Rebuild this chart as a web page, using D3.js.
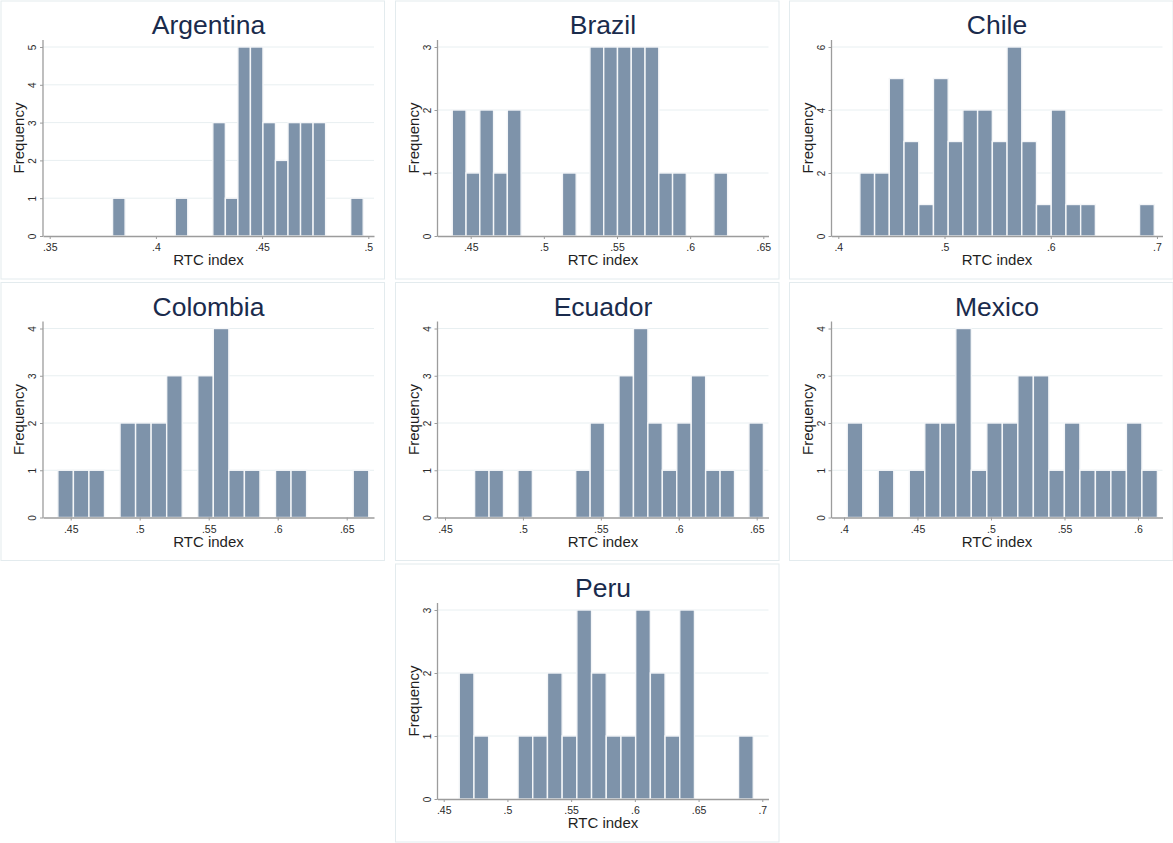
<!DOCTYPE html>
<html>
<head>
<meta charset="utf-8">
<script src="https://cdn.jsdelivr.net/npm/d3@7"></script>
<style>
  html, body { margin: 0; padding: 0; background: #ffffff; }
  svg { display: block; font-family: "Liberation Sans", Arial, sans-serif; }
</style>
</head>
<body>
<svg id="chart" width="1173" height="843"></svg>
<script>
// Histograms of the RTC index by country (20 equal-width bins each)
const countries = ["Argentina", "Brazil", "Chile", "Colombia", "Ecuador", "Mexico", "Peru"];

// Left edge of the first bin and the bin width, per country
const binStart = [0.3796, 0.4374, 0.4203, 0.4407, 0.4690, 0.4022, 0.4622];
const binWidth = [0.00590, 0.009411, 0.013857, 0.011264, 0.009265, 0.010551, 0.011535];

// Frequencies per bin
const argentinaCounts = [1, 0, 0, 0, 0, 1, 0, 0, 3, 1, 5, 5, 3, 2, 3, 3, 3, 0, 0, 1];
const brazilCounts    = [2, 1, 2, 1, 2, 0, 0, 0, 1, 0, 3, 3, 3, 3, 3, 1, 1, 0, 0, 1];
const chileCounts     = [2, 2, 5, 3, 1, 5, 3, 4, 4, 3, 6, 3, 1, 4, 1, 1, 0, 0, 0, 1];
const colombiaCounts  = [1, 1, 1, 0, 2, 2, 2, 3, 0, 3, 4, 1, 1, 0, 1, 1, 0, 0, 0, 1];
const ecuadorCounts   = [1, 1, 0, 1, 0, 0, 0, 1, 2, 0, 3, 4, 2, 1, 2, 3, 1, 1, 0, 2];
const mexicoCounts    = [2, 0, 1, 0, 1, 2, 2, 4, 1, 2, 2, 3, 3, 1, 2, 1, 1, 1, 2, 1];
const peruCounts      = [2, 1, 0, 0, 1, 1, 2, 1, 3, 2, 1, 1, 3, 2, 1, 3, 0, 0, 0, 1];
const counts = [argentinaCounts, brazilCounts, chileCounts, colombiaCounts, ecuadorCounts, mexicoCounts, peruCounts];

// Horizontal axis extent and tick values
const xExtent = [
  [0.34685, 0.50268],
  [0.42731, 0.65355],
  [0.3936, 0.7052],
  [0.42993, 0.66978],
  [0.44519, 0.65757],
  [0.3915, 0.61667],
  [0.44513, 0.70487]
];
const xTicks = [
  [0.35, 0.40, 0.45, 0.50],
  [0.45, 0.50, 0.55, 0.60, 0.65],
  [0.4, 0.5, 0.6, 0.7],
  [0.45, 0.50, 0.55, 0.60, 0.65],
  [0.45, 0.50, 0.55, 0.60, 0.65],
  [0.40, 0.45, 0.50, 0.55, 0.60],
  [0.45, 0.50, 0.55, 0.60, 0.65, 0.70]
];
// Vertical axis tick values (last one is the top of the scale)
const yTicks = [
  [0, 1, 2, 3, 4, 5],
  [0, 1, 2, 3],
  [0, 2, 4, 6],
  [0, 1, 2, 3, 4],
  [0, 1, 2, 3, 4],
  [0, 1, 2, 3, 4],
  [0, 1, 2, 3]
];

const xTitle = "RTC index";
const yTitle = "Frequency";

// Grid layout of the panels
const colLeft = [1, 395.5, 789.5];
const rowTop = [1, 282.5, 564];
const cellPos = [[0, 0], [0, 1], [0, 2], [1, 0], [1, 1], [1, 2], [2, 1]];
const panelW = 383.5, panelH = 278;
const plot = { left: 42, right: 373, top: 39, yMaxPos: 46, bottom: 235 };

const barColor = "#7e93aa";
const titleColor = "#1a2b4c";
const axisColor = "#9c9c9c";
const gridColor = "#e8eff1";
const frameColor = "#e3ebee";
const textColor = "#2a2a2a";

const fmt = d => {
  let s = String(+d.toFixed(3));
  return s.replace(/^0\./, ".");
};

const svg = d3.select("#chart");

countries.forEach((name, i) => {
  const [r, c] = cellPos[i];
  const g = svg.append("g").attr("transform", `translate(${colLeft[c]},${rowTop[r]})`);

  g.append("rect")
    .attr("x", 0).attr("y", 0)
    .attr("width", panelW).attr("height", panelH)
    .attr("fill", "#ffffff")
    .attr("stroke", frameColor).attr("stroke-width", 1);

  const x = d3.scaleLinear().domain(xExtent[i]).range([plot.left, plot.right]);
  const yt = yTicks[i];
  const y = d3.scaleLinear().domain([0, yt[yt.length - 1]]).range([plot.bottom, plot.yMaxPos]);

  // gridlines
  g.append("g").selectAll("line")
    .data(yt.filter(v => v > 0))
    .join("line")
    .attr("x1", plot.left).attr("x2", plot.right)
    .attr("y1", d => y(d)).attr("y2", d => y(d))
    .attr("stroke", gridColor).attr("stroke-width", 1);

  // bars
  const bins = counts[i].map((n, k) => ({
    x0: binStart[i] + k * binWidth[i],
    x1: binStart[i] + (k + 1) * binWidth[i],
    n
  })).filter(b => b.n > 0);

  g.append("g").selectAll("rect")
    .data(bins)
    .join("rect")
    .attr("x", d => x(d.x0))
    .attr("width", d => x(d.x1) - x(d.x0))
    .attr("y", d => y(d.n))
    .attr("height", d => y(0) - y(d.n))
    .attr("fill", barColor)
    .attr("stroke", "#f4f6f8").attr("stroke-width", 1.4);

  // x axis
  const xAxis = g.append("g")
    .attr("transform", `translate(0,${plot.bottom})`)
    .call(d3.axisBottom(x).tickValues(xTicks[i]).tickFormat(fmt).tickSize(3).tickSizeOuter(0).tickPadding(5));
  xAxis.select(".domain").attr("stroke", axisColor).attr("stroke-width", 1.3);
  xAxis.selectAll(".tick line").attr("stroke", axisColor).attr("stroke-width", 1);
  xAxis.selectAll(".tick text")
    .attr("fill", textColor)
    .style("font-size", "10.5px")
    .style("font-family", "'Liberation Sans', Arial, sans-serif");

  // y axis
  const yAxis = g.append("g")
    .attr("transform", `translate(${plot.left},0)`)
    .call(d3.axisLeft(y).tickValues(yt).tickFormat(d3.format("d")).tickSize(3).tickSizeOuter(0));
  yAxis.select(".domain").remove();
  yAxis.append("line")
    .attr("x1", 0).attr("x2", 0)
    .attr("y1", plot.bottom + 0.6).attr("y2", plot.top)
    .attr("stroke", axisColor).attr("stroke-width", 1.3);
  yAxis.selectAll(".tick line").attr("stroke", axisColor).attr("stroke-width", 1);
  yAxis.selectAll(".tick text")
    .attr("transform", "rotate(-90)")
    .attr("x", 0).attr("y", -7).attr("dy", 0)
    .attr("text-anchor", "middle")
    .attr("fill", textColor)
    .style("font-size", "10px")
    .style("font-family", "'Liberation Sans', Arial, sans-serif");

  // axis titles
  const cx = (plot.left + plot.right) / 2;
  g.append("text")
    .attr("x", cx).attr("y", 264)
    .attr("text-anchor", "middle")
    .attr("fill", "#1f1f1f")
    .style("font-size", "15px")
    .text(xTitle);

  g.append("text")
    .attr("transform", `translate(23,${(plot.top + plot.bottom) / 2}) rotate(-90)`)
    .attr("text-anchor", "middle")
    .attr("fill", "#1f1f1f")
    .style("font-size", "15px")
    .text(yTitle);

  // panel title
  g.append("text")
    .attr("x", cx).attr("y", 33)
    .attr("text-anchor", "middle")
    .attr("fill", titleColor)
    .style("font-size", "26.5px")
    .text(name);
});
</script>
</body>
</html>
